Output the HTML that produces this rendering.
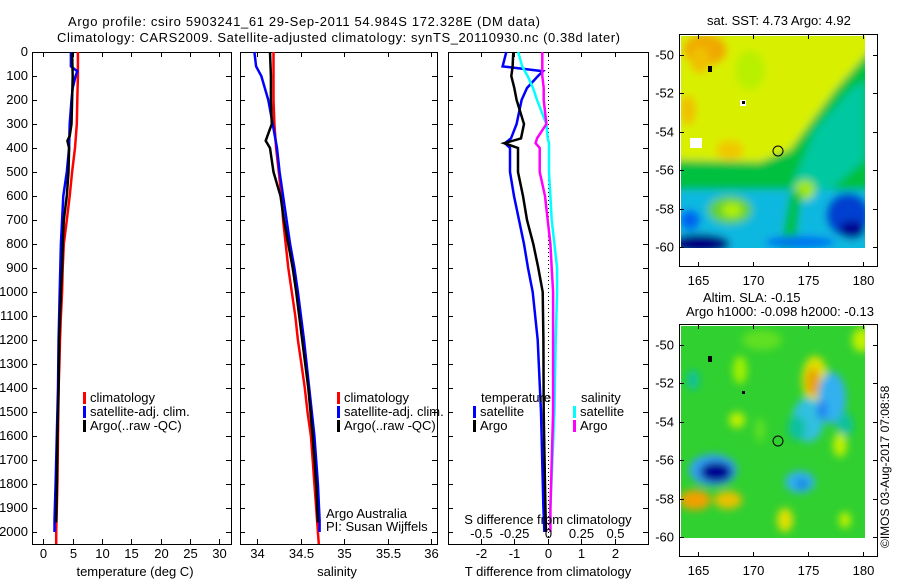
<!DOCTYPE html>
<html><head><meta charset="utf-8"><style>
html,body{margin:0;padding:0;background:#fff;}
svg{display:block;font-family:"Liberation Sans",sans-serif;}
text{font-size:13px;fill:#000;}
</style></head><body>
<svg id="chart" width="900" height="580" viewBox="0 0 900 580" xmlns="http://www.w3.org/2000/svg">
<defs>
<filter id="blur" x="-20%" y="-20%" width="140%" height="140%"><feGaussianBlur stdDeviation="4"/></filter>
<filter id="blur2" x="-20%" y="-20%" width="140%" height="140%"><feGaussianBlur stdDeviation="4"/></filter>
<clipPath id="clipA"><rect x="681" y="36" width="184" height="212"/></clipPath>
<clipPath id="clipB"><rect x="681" y="326" width="184" height="212"/></clipPath>
</defs>
<text x="68" y="26" textLength="472">Argo profile: csiro 5903241_61 29-Sep-2011 54.984S 172.328E (DM data)</text>
<text x="57" y="42" textLength="563">Climatology: CARS2009. Satellite-adjusted climatology: synTS_20110930.nc (0.38d later)</text>

<g id="p1"></g>
<g id="p2"></g>
<g id="p3"></g>

<!-- SST map -->
<g>
<text x="707" y="25">sat. SST: 4.73 Argo: 4.92</text>
<g clip-path="url(#clipA)">
<rect x="681" y="36" width="184" height="212" fill="#00c0a0"/>
<g filter="url(#blur)">
<polygon points="670,30 875,30 875,55 845,100 805,150 780,165 750,165 700,170 670,165" fill="#d8f000"/>
<ellipse cx="705" cy="50" rx="22" ry="16" fill="#f0a800"/>
<ellipse cx="700" cy="60" rx="10" ry="14" fill="#f0c000"/>
<ellipse cx="688" cy="110" rx="8" ry="15" fill="#f0c000"/>
<ellipse cx="730" cy="150" rx="14" ry="10" fill="#f0c800"/>
<ellipse cx="750" cy="70" rx="15" ry="20" fill="#b8f000"/>
<polygon points="670,160 760,162 790,150 835,90 875,45 875,195 670,195" fill="#00c040"/>
<polygon points="790,190 815,130 850,90 865,80 865,160 830,190" fill="#00c8a0"/>
<rect x="670" y="190" width="210" height="65" fill="#10b8e0"/>
<ellipse cx="730" cy="210" rx="22" ry="14" fill="#60d030"/>
<ellipse cx="732" cy="210" rx="10" ry="7" fill="#b0f000"/>
<ellipse cx="805" cy="190" rx="10" ry="10" fill="#a0e800"/>
<polygon points="780,250 790,192 802,192 795,250" fill="#00c040"/>
<ellipse cx="700" cy="244" rx="30" ry="10" fill="#000080"/>
<ellipse cx="690" cy="220" rx="10" ry="10" fill="#0060f0"/>
<ellipse cx="848" cy="215" rx="22" ry="22" fill="#0040d0"/>
<ellipse cx="852" cy="230" rx="13" ry="9" fill="#000090"/>
<ellipse cx="800" cy="242" rx="35" ry="6" fill="#0070f0"/>
</g>
<rect x="690" y="138" width="12" height="10" fill="#fff"/>
<rect x="740" y="100" width="6" height="6" fill="#fff"/>
<rect x="708" y="66" width="4" height="6" fill="#000"/>
<rect x="742" y="101" width="3" height="3" fill="#000"/>
</g>
<circle cx="778" cy="151" r="5" fill="none" stroke="#000" stroke-width="1"/>
<rect x="679.5" y="34.5" width="198" height="232" fill="none" stroke="#000"/>
<g id="mapAxA"></g>
</g>

<!-- SLA map -->
<g>
<text x="703" y="302">Altim. SLA: -0.15</text>
<text x="686" y="316">Argo h1000: -0.098 h2000: -0.13</text>
<g clip-path="url(#clipB)">
<rect x="681" y="326" width="184" height="212" fill="#30d030"/>
<g filter="url(#blur2)">
<ellipse cx="740" cy="370" rx="7" ry="14" fill="#a0f000"/>
<ellipse cx="762" cy="340" rx="20" ry="10" fill="#60e020"/>
<ellipse cx="862" cy="340" rx="10" ry="12" fill="#c0f000"/>
<ellipse cx="815" cy="380" rx="13" ry="24" fill="#e0e000"/>
<ellipse cx="813" cy="382" rx="7" ry="14" fill="#e8a000"/>
<ellipse cx="808" cy="420" rx="16" ry="22" fill="#30c0e0"/>
<ellipse cx="832" cy="398" rx="14" ry="26" fill="#30b0f0"/>
<ellipse cx="822" cy="410" rx="5" ry="10" fill="#2080f0"/>
<ellipse cx="797" cy="428" rx="9" ry="12" fill="#10c0a0"/>
<ellipse cx="845" cy="425" rx="8" ry="12" fill="#10c0a0"/>
<ellipse cx="800" cy="482" rx="15" ry="11" fill="#30b0f0"/>
<ellipse cx="802" cy="484" rx="6" ry="5" fill="#1080e0"/>
<ellipse cx="713" cy="470" rx="24" ry="16" fill="#30a0f0"/>
<ellipse cx="716" cy="472" rx="16" ry="10" fill="#000090"/>
<ellipse cx="695" cy="500" rx="16" ry="10" fill="#f0a000"/>
<ellipse cx="728" cy="500" rx="14" ry="9" fill="#e8c000"/>
<ellipse cx="785" cy="520" rx="8" ry="12" fill="#e0e000"/>
<ellipse cx="737" cy="420" rx="8" ry="8" fill="#c0f000"/>
<ellipse cx="840" cy="445" rx="7" ry="12" fill="#c0f000"/>
<ellipse cx="845" cy="520" rx="6" ry="8" fill="#c0f000"/>
<ellipse cx="760" cy="430" rx="5" ry="12" fill="#60e020"/>
<ellipse cx="693" cy="380" rx="6" ry="10" fill="#10c0a0"/>
</g>
<rect x="708" y="356" width="4" height="6" fill="#000"/>
<rect x="742" y="391" width="3" height="3" fill="#000"/>
</g>
<circle cx="778" cy="441" r="5" fill="none" stroke="#000" stroke-width="1"/>
<rect x="679.5" y="324.5" width="198" height="232" fill="none" stroke="#000"/>
<g id="mapAxB"></g>
</g>
<text transform="translate(889,548) rotate(-90)" style="font-size:12px">©IMOS 03-Aug-2017 07:08:58</text>
</svg>
<script>
// ---- data ----
const depthTicks = [0,100,200,300,400,500,600,700,800,900,1000,1100,1200,1300,1400,1500,1600,1700,1800,1900,2000];
const tempTicks = [0,5,10,15,20,25,30];
const salTicks = [34,34.5,35,35.5,36];
const tdiffTicks = [-2,-1,0,1,2];
const sdiffTicks = [-0.5,-0.25,0,0.25,0.5];
const sdiffLabels = ["-0.5","-0.25","0","0.25","0.5"];

const climDepth = [0,100,200,300,400,500,600,700,800,900,1000,1100,1200,1300,1400,1500,1600,1700,1800,1900,2000,2050];
const climTemp = [5.9,5.9,5.8,5.7,5.4,4.9,4.5,4.0,3.5,3.3,3.2,3.0,2.85,2.75,2.6,2.55,2.5,2.45,2.4,2.3,2.2,2.2];
const climSal = [34.19,34.19,34.19,34.2,34.22,34.25,34.28,34.3,34.33,34.36,34.4,34.44,34.47,34.51,34.55,34.58,34.62,34.64,34.66,34.68,34.7,34.71];

const satDepth = [0,60,80,100,150,200,300,400,500,600,700,800,900,1000,1200,1400,1600,1800,1950,2000];
const satTemp = [4.7,4.7,5.8,5.5,5.0,4.8,4.5,4.4,4.0,3.4,3.2,3.0,2.9,2.8,2.6,2.5,2.3,2.1,1.9,1.9];
const satSal = [33.97,33.99,34.02,34.05,34.09,34.13,34.18,34.23,34.26,34.3,34.34,34.38,34.43,34.47,34.54,34.6,34.66,34.7,34.72,34.72];

const argoDepth = [0,100,200,300,350,370,400,500,600,700,800,900,1000,1200,1400,1600,1800,1960];
const argoTemp = [4.9,5.0,4.9,4.8,4.5,4.1,4.4,4.3,4.0,3.5,3.3,3.2,3.0,2.7,2.6,2.4,2.3,2.2];
const argoSal = [34.15,34.16,34.16,34.17,34.12,34.1,34.15,34.19,34.27,34.31,34.36,34.41,34.45,34.52,34.59,34.64,34.68,34.7];

const diffDepth = [0,60,80,100,150,200,300,360,380,400,500,600,700,800,900,1000,1200,1500,1900,2000];
const tdiffSat = [-1.24,-1.35,-0.14,-0.29,-0.62,-0.78,-0.93,-1.1,-1.28,-1.13,-1.13,-1.01,-0.86,-0.71,-0.59,-0.45,-0.3,-0.2,-0.13,-0.1];
const tdiffArgo = [-1.03,-1.05,-1.07,-1.09,-1.0,-0.93,-0.71,-0.8,-1.3,-0.89,-0.89,-0.74,-0.62,-0.43,-0.28,-0.15,-0.13,-0.12,-0.07,-0.05];
const sdiffSat = [-0.22,-0.19,-0.17,-0.15,-0.11,-0.08,-0.01,0.0,0.01,0.01,0.01,0.02,0.03,0.05,0.07,0.07,0.06,0.05,0.02,0.02];
const sdiffArgo = [-0.04,-0.04,-0.04,-0.04,-0.03,-0.03,-0.01,-0.08,-0.09,-0.06,-0.06,-0.02,0.0,0.02,0.03,0.04,0.04,0.04,0.02,0.02];

const lonTicks = [165,170,175,180];
const latTicks = [-50,-52,-54,-56,-58,-60];

// ---- helpers ----
const NS = "http://www.w3.org/2000/svg";
function mk(parent, tag, attrs, txt){
  const e = document.createElementNS(NS, tag);
  for (const k in attrs) e.setAttribute(k, attrs[k]);
  if (txt !== undefined) e.textContent = txt;
  parent.appendChild(e);
  return e;
}
const Y0 = 52, YTOP = 52, YBOT = 544;
function yD(d){ return Y0 + d * 0.24; }

function box(g, x0, x1){
  const r = mk(g, 'rect', {x:x0+0.5, y:YTOP+0.5, width:x1-x0, height:YBOT-YTOP, fill:'none', stroke:'#000'});
  
  
  depthTicks.forEach(d => {
    const y = Math.round(yD(d)) + 0.5;
    mk(g, 'line', {x1:x0, y1:y, x2:x0+5, y2:y, stroke:'#000'});
    mk(g, 'line', {x1:x1-5, y1:y, x2:x1, y2:y, stroke:'#000'});
  });
}
function xTicks(g, vals, labels, xf, yLab, top){
  vals.forEach((v,i) => {
    const x = Math.round(xf(v)) + 0.5;
    mk(g, 'line', {x1:x, y1:YBOT, x2:x, y2:YBOT-5, stroke:'#000'});
    if (top) mk(g, 'line', {x1:x, y1:YTOP, x2:x, y2:YTOP+5, stroke:'#000'});
    const t = mk(g, 'text', {x:x, y:yLab, 'text-anchor':'middle'}, labels[i]);
    
    
  });
}
function line(g, xs, ds, xf, color, name){
  const pts = xs.map((v,i) => xf(v).toFixed(1) + ',' + yD(ds[i]).toFixed(1)).join(' ');
  const p = mk(g, 'polyline', {points:pts, fill:'none', stroke:color, 'stroke-width':2.5});
  
  
}
function legend(g, x, y, items){
  items.forEach((it,i) => {
    mk(g, 'rect', {x:x, y:y + i*14 - 10, width:3, height:12, fill:it[1]});
    const t = mk(g, 'text', {x:x+7, y:y + i*14}, it[0]);
    
    
  });
}

// ---- panel 1: temperature ----
const p1 = document.getElementById('p1');
const xT = v => 43.3 + v * 5.87;
box(p1, 32, 231);
depthTicks.forEach(d => {
  const t = mk(p1, 'text', {x:28, y:yD(d)+4, 'text-anchor':'end'}, String(d));
  
  
});
xTicks(p1, tempTicks, tempTicks.map(String), xT, 558, true);
line(p1, climTemp, climDepth, xT, '#ff0000', 'temp-climatology-line');
line(p1, satTemp, satDepth, xT, '#0000ff', 'temp-satellite-line');
line(p1, argoTemp, argoDepth, xT, '#000000', 'temp-argo-line');
legend(p1, 83, 402, [['climatology','#ff0000'],['satellite-adj. clim.','#0000ff'],['Argo(..raw -QC)','#000']]);
const xl1 = mk(p1, 'text', {x:135, y:576, 'text-anchor':'middle'}, 'temperature (deg C)');



// ---- panel 2: salinity ----
const p2 = document.getElementById('p2');
const xS = v => 257 + (v - 34) * 87;
box(p2, 240, 437);
xTicks(p2, salTicks, salTicks.map(String), xS, 558, true);
line(p2, climSal, climDepth, xS, '#ff0000', 'sal-climatology-line');
line(p2, satSal, satDepth, xS, '#0000ff', 'sal-satellite-line');
line(p2, argoSal, argoDepth, xS, '#000000', 'sal-argo-line');
legend(p2, 337, 402, [['climatology','#ff0000'],['satellite-adj. clim.','#0000ff'],['Argo(..raw -QC)','#000']]);
mk(p2, 'text', {x:326, y:518}, 'Argo Australia');
mk(p2, 'text', {x:326, y:531}, 'PI: Susan Wijffels');
const xl2 = mk(p2, 'text', {x:337, y:576, 'text-anchor':'middle'}, 'salinity');



// ---- panel 3: differences ----
const p3 = document.getElementById('p3');
const xTD = v => 547.7 + v * 33.4;
const xSD = v => 547.7 + v * 134;
box(p3, 448, 648);
mk(p3, 'line', {x1:548.5, y1:YTOP, x2:548.5, y2:YBOT, stroke:'#000', 'stroke-dasharray':'1,3'});
tdiffTicks.forEach(v => { const x = Math.round(xTD(v))+0.5; mk(p3,'line',{x1:x,y1:YTOP,x2:x,y2:YTOP+5,stroke:'#000'}); });
tdiffTicks.forEach(v => {
  const x = Math.round(xTD(v))+0.5;
  const t = mk(p3, 'text', {x:x, y:558, 'text-anchor':'middle'}, String(v));
  
  
});
line(p3, tdiffSat, diffDepth, xTD, '#0000ff', 'tdiff-satellite-line');
line(p3, tdiffArgo, diffDepth, xTD, '#000000', 'tdiff-argo-line');
line(p3, sdiffSat, diffDepth, xSD, '#00ffff', 'sdiff-satellite-line');
line(p3, sdiffArgo, diffDepth, xSD, '#ff00ff', 'sdiff-argo-line');
sdiffTicks.forEach((v,i) => {
  const x = Math.round(xSD(v))+0.5;
  mk(p3, 'line', {x1:x, y1:YBOT, x2:x, y2:YBOT-5, stroke:'#000'});
  const t = mk(p3, 'text', {x:x, y:538, 'text-anchor':'middle'}, sdiffLabels[i]);
  
  
});
mk(p3, 'text', {x:481, y:402}, 'temperature');
legend(p3, 473, 416, [['satellite','#0000ff'],['Argo','#000']]);
mk(p3, 'text', {x:581, y:402}, 'salinity');
legend(p3, 573, 416, [['satellite','#00ffff'],['Argo','#ff00ff']]);
const s3 = mk(p3, 'text', {x:548, y:524, 'text-anchor':'middle'}, 'S difference from climatology');


const t3 = mk(p3, 'text', {x:548, y:576, 'text-anchor':'middle'}, 'T difference from climatology');



// ---- map axes ----
function mapAxes(id, yOff){
  const g = document.getElementById(id);
  const xL = v => 698 + (v - 165) * 11;
  const yL = v => yOff + 55 + (-50 - v) * 19.2;
  lonTicks.forEach(v => {
    const x = Math.round(xL(v)) + 0.5;
    mk(g, 'line', {x1:x, y1:yOff+34, x2:x, y2:yOff+39, stroke:'#000'});
    mk(g, 'line', {x1:x, y1:yOff+267, x2:x, y2:yOff+262, stroke:'#000'});
    const t = mk(g, 'text', {x:x, y:yOff+285, 'text-anchor':'middle'}, String(v));
    
    
  });
  latTicks.forEach(v => {
    const y = Math.round(yL(v)) + 0.5;
    mk(g, 'line', {x1:679, y1:y, x2:684, y2:y, stroke:'#000'});
    mk(g, 'line', {x1:873, y1:y, x2:878, y2:y, stroke:'#000'});
    const t = mk(g, 'text', {x:674, y:y+4, 'text-anchor':'end'}, String(v));
    
    
  });
}
mapAxes('mapAxA', 0);
mapAxes('mapAxB', 290);
</script>
</body></html>
